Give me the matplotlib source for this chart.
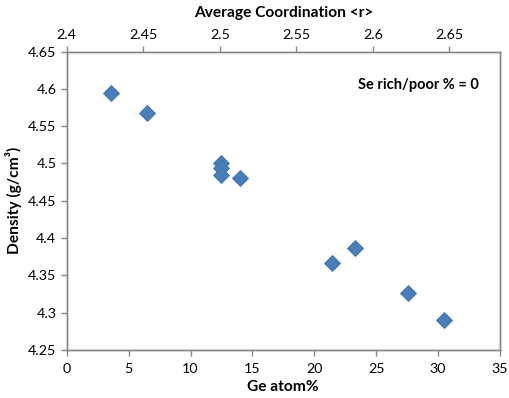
import matplotlib
matplotlib.use('Agg')
import matplotlib.pyplot as plt

ge = [3.55, 6.5, 12.5, 12.5, 12.5, 14.0, 21.4, 23.3, 27.6, 30.5]
density = [4.595, 4.567, 4.501, 4.494, 4.484, 4.480, 4.367, 4.387, 4.326, 4.290]

xticks = [0, 5, 10, 15, 20, 25, 30, 35]
yticks = [4.25, 4.3, 4.35, 4.4, 4.45, 4.5, 4.55, 4.6, 4.65]
rticks = [2.4, 2.45, 2.5, 2.55, 2.6, 2.65]

plt.rcParams['font.family'] = ['Lato', 'DejaVu Sans']
gray = '#868686'

fig = plt.figure(figsize=(5.1, 3.98), dpi=100)
ax = fig.add_axes([0.131, 0.1206, 0.849, 0.750])
ax.plot(ge, density, 'D', color='#4A7EBB', markeredgecolor='#3F6FA8',
        markeredgewidth=0.6, markersize=8.5, linestyle='none')
ax.set_xlim(0, 35)
ax.set_ylim(4.25, 4.65)
ax.set_xticks(xticks)
ax.set_xticklabels([str(v) for v in xticks])
ax.set_yticks(yticks)
ax.set_yticklabels(['%g' % v for v in yticks])
ax.set_xlabel('Ge atom%', fontsize=11.2, fontweight='bold', labelpad=4)
ax.set_ylabel('Density (g/cm³)', fontsize=11.2, fontweight='bold', labelpad=4)
ax.tick_params(direction='out', length=4, color=gray, labelsize=10.3, width=1)
ax.tick_params(axis='x', pad=5)

top = ax.twiny()
top.set_xlim(2.4, 2.683)
top.set_xticks(rticks)
top.set_xticklabels(['%g' % v for v in rticks])
top.set_xlabel('Average Coordination <r>', fontsize=11.2, fontweight='bold', labelpad=9)
top.tick_params(direction='out', length=4, color=gray, labelsize=10.3, width=1)

for a in (ax, top):
    for s in a.spines.values():
        s.set_color(gray)
        s.set_linewidth(1)

ax.text(0.951, 0.888, 'Se rich/poor % = 0', transform=ax.transAxes,
        ha='right', va='center', fontsize=10.5, fontweight='bold')

fig.savefig('out.png', dpi=100)
